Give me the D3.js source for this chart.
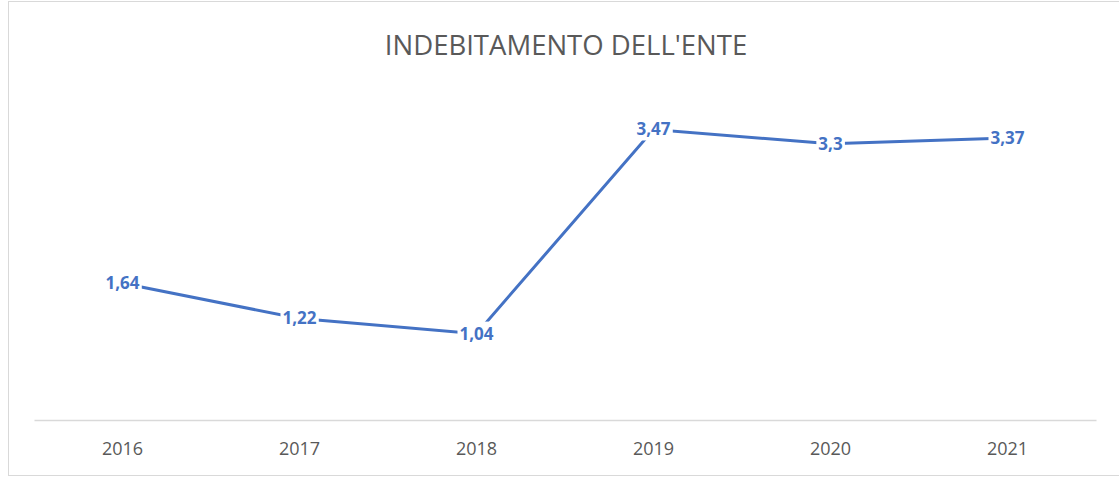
<!DOCTYPE html>
<html>
<head>
<meta charset="utf-8">
<script src="https://cdn.jsdelivr.net/npm/d3@7"></script>
<style>
  body { margin: 0; background: #fff; }
  svg { display: block; }
</style>
</head>
<body>
<svg id="chart" width="1119" height="477"></svg>
<script>
var years = ["2016", "2017", "2018", "2019", "2020", "2021"];
var values = [1.64, 1.22, 1.04, 3.47, 3.3, 3.37];
var labels = ["1,64", "1,22", "1,04", "3,47", "3,3", "3,37"];

var svg = d3.select("#chart");

// chart frame
svg.append("rect")
  .attr("x", 8.5).attr("y", 1.5)
  .attr("width", 1130).attr("height", 474)
  .attr("fill", "#fff")
  .attr("stroke", "#d9d9d9")
  .attr("stroke-width", 1);

svg.append("text")
  .attr("x", 566).attr("y", 55)
  .attr("text-anchor", "middle")
  .attr("font-family", "Open Sans, sans-serif")
  .attr("font-size", 27.5)
  .attr("fill", "#595959")
  .text("INDEBITAMENTO DELL'ENTE");

var x = d3.scaleBand().domain(years).range([34, 1096]);
var y = d3.scaleLinear().domain([0, 4]).range([421, 85]);

var xAxis = svg.append("g")
  .attr("transform", "translate(0,420)")
  .call(d3.axisBottom(x).tickSize(0).tickPadding(22));
xAxis.select(".domain").attr("stroke", "#d9d9d9").attr("stroke-width", 1.3);
xAxis.selectAll("text")
  .attr("font-family", "Open Sans, sans-serif")
  .attr("font-size", 18)
  .attr("fill", "#595959");

var cx = function (d, i) { return x(years[i]) + x.bandwidth() / 2; };

var line = d3.line()
  .x(cx)
  .y(function (d) { return y(d); });

svg.append("path")
  .datum(values)
  .attr("d", line)
  .attr("fill", "none")
  .attr("stroke", "#4472c4")
  .attr("stroke-width", 3);

var lab = svg.append("g").selectAll("g")
  .data(values)
  .enter().append("g")
  .attr("transform", function (d, i) { return "translate(" + cx(d, i) + "," + y(d) + ")"; });

lab.append("text")
  .attr("text-anchor", "middle")
  .attr("dy", "0.35em")
  .attr("font-family", "Open Sans, sans-serif")
  .attr("font-weight", "bold")
  .attr("font-size", 17)
  .attr("fill", "#4472c4")
  .text(function (d, i) { return labels[i]; })
  .each(function () {
    var b = this.getBBox();
    d3.select(this.parentNode).insert("rect", "text")
      .attr("x", b.x - 2).attr("y", b.y)
      .attr("width", b.width + 4).attr("height", b.height)
      .attr("fill", "#fff");
  });
</script>
</body>
</html>
